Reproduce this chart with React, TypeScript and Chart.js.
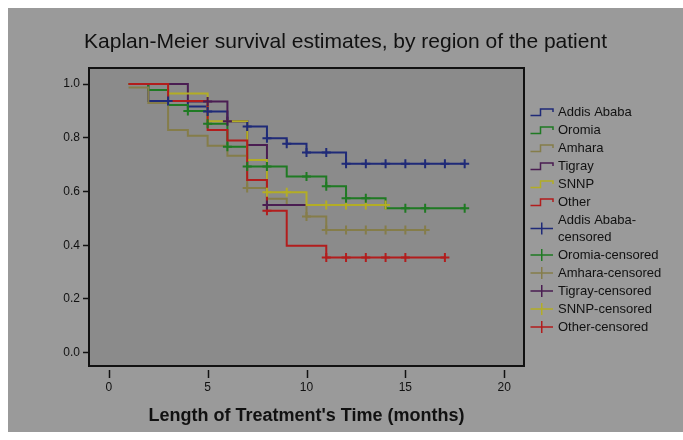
import React, { useEffect, useRef } from 'react';
import { Chart, registerables } from 'chart.js';

Chart.register(...registerables);

const TITLE = 'Kaplan-Meier survival estimates, by region of the patient';
const X_TITLE = "Length of Treatment's Time (months)";
const X_TICKS = [0, 5, 10, 15, 20];
const Y_TICKS = [0.0, 0.2, 0.4, 0.6, 0.8, 1.0];
const REGIONS = ['Addis Ababa', 'Oromia', 'Amhara', 'Tigray', 'SNNP', 'Other'];
const COLORS = ['#1f2a78', '#1f7a23', '#857d4a', '#4a1d52', '#b3ad25', '#b21d1d'];

// Step points: survival value holds from each time until the next one
const addisTimes = [1, 2, 4, 5, 6, 7, 8, 9, 10, 12, 18];
const addisSurv = [1.0, 0.937, 0.917, 0.898, 0.862, 0.842, 0.798, 0.778, 0.745, 0.703, 0.703];
const addisCensor = [3, 5, 7, 8, 9, 10, 11, 12, 13, 14, 15, 16, 17, 18];

const oromiaTimes = [1, 2, 3, 4, 5, 6, 7, 9, 11, 12, 14, 18];
const oromiaSurv = [1.0, 0.978, 0.922, 0.9, 0.852, 0.767, 0.693, 0.656, 0.62, 0.575, 0.538, 0.538];
const oromiaCensor = [4, 5, 6, 7, 8, 10, 11, 12, 13, 15, 16, 18];

const amharaTimes = [1, 2, 3, 4, 5, 6, 7, 8, 9, 10, 11, 16];
const amharaSurv = [0.987, 0.93, 0.829, 0.808, 0.77, 0.733, 0.613, 0.573, 0.55, 0.507, 0.457, 0.457];
const amharaCensor = [7, 10, 11, 12, 13, 14, 15, 16];

const tigrayTimes = [1, 4, 6, 7, 8, 10];
const tigraySurv = [1.0, 0.935, 0.862, 0.773, 0.55, 0.55];
const tigrayCensor = [5, 6, 8];

const snnpTimes = [1, 3, 5, 7, 8, 10, 14];
const snnpSurv = [1.0, 0.965, 0.862, 0.717, 0.597, 0.55, 0.55];
const snnpCensor = [8, 9, 11, 12, 13, 14];

const otherTimes = [1, 3, 5, 6, 7, 8, 9, 11, 17];
const otherSurv = [1.0, 0.937, 0.829, 0.79, 0.643, 0.528, 0.398, 0.354, 0.354];
const otherCensor = [8, 11, 12, 13, 14, 15, 17];

const SERIES_TIMES = [addisTimes, oromiaTimes, amharaTimes, tigrayTimes, snnpTimes, otherTimes];
const SERIES_SURV = [addisSurv, oromiaSurv, amharaSurv, tigraySurv, snnpSurv, otherSurv];
const SERIES_CENSOR = [addisCensor, oromiaCensor, amharaCensor, tigrayCensor, snnpCensor, otherCensor];

const FONT = '"Liberation Sans", Arial, Helvetica, sans-serif';
const TEXT = '#111111';
const OUTER_BG = '#9a9a9a';
const PLOT_BG = '#8b8b8b';

function survAt(times: number[], surv: number[], t: number) {
  let v = surv[0];
  for (let i = 0; i < times.length; i++) if (times[i] <= t) v = surv[i];
  return v;
}

const decorPlugin = {
  id: 'kmDecor',
  beforeDraw(chart: any) {
    const { ctx, chartArea: a } = chart;
    ctx.save();
    ctx.fillStyle = OUTER_BG;
    ctx.fillRect(0, 0, chart.width, chart.height);
    ctx.fillStyle = PLOT_BG;
    ctx.fillRect(a.left, a.top, a.right - a.left, a.bottom - a.top);
    ctx.restore();
  },
  afterDraw(chart: any) {
    const { ctx, chartArea: a } = chart;
    const xs = chart.scales.x;
    ctx.save();
    // frame
    ctx.strokeStyle = TEXT;
    ctx.lineWidth = 2;
    ctx.strokeRect(a.left, a.top, a.right - a.left, a.bottom - a.top);
    // x tick marks (detached below frame)
    ctx.lineWidth = 1.5;
    X_TICKS.forEach((v) => {
      const px = Math.round(xs.getPixelForValue(v)) + 0.5;
      ctx.beginPath();
      ctx.moveTo(px, a.bottom + 4);
      ctx.lineTo(px, a.bottom + 12);
      ctx.stroke();
    });
    // title
    ctx.fillStyle = TEXT;
    ctx.font = `21px ${FONT}`;
    ctx.textAlign = 'center';
    ctx.textBaseline = 'middle';
    ctx.fillText(TITLE, chart.width / 2, 34);
    // legend
    ctx.font = `13px ${FONT}`;
    ctx.textAlign = 'left';
    const ix0 = 522.5;
    const ix1 = 545;
    const tx = 550;
    let y = 104;
    const step = 18;
    REGIONS.forEach((name, i) => {
      ctx.strokeStyle = COLORS[i];
      ctx.lineWidth = 1.5;
      ctx.beginPath();
      ctx.moveTo(ix0, y + 3.5);
      ctx.lineTo(ix0 + 10, y + 3.5);
      ctx.lineTo(ix0 + 10, y - 3);
      ctx.lineTo(ix1, y - 3);
      ctx.lineTo(ix1, y);
      ctx.stroke();
      ctx.fillStyle = TEXT;
      ctx.fillText(name, tx, y);
      y += step;
    });
    REGIONS.forEach((name, i) => {
      const label = name + '-censored';
      let lines = [label];
      if (ctx.measureText(label).width > 118) lines = [name + '-', 'censored'];
      const cy = y + ((lines.length - 1) * 17) / 2;
      ctx.strokeStyle = COLORS[i];
      ctx.lineWidth = 1.5;
      ctx.beginPath();
      ctx.moveTo(ix0, cy);
      ctx.lineTo(ix1, cy);
      ctx.moveTo((ix0 + ix1) / 2, cy - 6);
      ctx.lineTo((ix0 + ix1) / 2, cy + 6);
      ctx.stroke();
      ctx.fillStyle = TEXT;
      lines.forEach((ln, k) => ctx.fillText(ln, tx, y + k * 17));
      y += step + (lines.length - 1) * 17;
    });
    ctx.restore();
  },
};

export default function App() {
  const ref = useRef<HTMLCanvasElement | null>(null);
  useEffect(() => {
    if (!ref.current) return;
    const lineSets = REGIONS.map((name, i) => ({
      type: 'line' as const,
      label: name,
      data: SERIES_TIMES[i].map((t, j) => ({ x: t, y: SERIES_SURV[i][j] })),
      stepped: true,
      borderColor: COLORS[i],
      borderWidth: 2,
      pointRadius: 0,
      fill: false,
      order: 6 + (5 - i),
    }));
    const censorSets = REGIONS.map((name, i) => ({
      type: 'scatter' as const,
      label: name + '-censored',
      data: SERIES_CENSOR[i].map((t) => ({ x: t, y: survAt(SERIES_TIMES[i], SERIES_SURV[i], t) })),
      showLine: false,
      pointStyle: 'cross',
      pointRadius: 4.5,
      pointBorderWidth: 2,
      borderColor: COLORS[i],
      backgroundColor: COLORS[i],
      order: i,
    }));
    const chart = new Chart(ref.current, {
      type: 'line',
      data: { datasets: [...censorSets, ...lineSets] as any },
      options: {
        animation: false,
        responsive: false,
        devicePixelRatio: 1,
        layout: { padding: { top: 60, right: 159, left: 0, bottom: 0 } },
        plugins: { legend: { display: false }, tooltip: { enabled: false }, title: { display: false } },
        scales: {
          x: {
            type: 'linear',
            min: -1,
            max: 21,
            afterBuildTicks: (s: any) => {
              s.ticks = X_TICKS.map((v) => ({ value: v }));
            },
            afterFit: (s: any) => {
              s.height = 66;
            },
            ticks: {
              color: TEXT,
              padding: 6,
              font: { family: FONT, size: 12 },
              callback: (v: any) => String(v),
            },
            grid: { display: false },
            border: { display: false },
            title: {
              display: true,
              text: X_TITLE,
              color: TEXT,
              font: { family: FONT, size: 18, weight: 'bold' },
              padding: { top: 0, bottom: 5 },
            },
          },
          y: {
            type: 'linear',
            min: -0.05,
            max: 1.06,
            afterBuildTicks: (s: any) => {
              s.ticks = Y_TICKS.map((v) => ({ value: v }));
            },
            afterFit: (s: any) => {
              s.width = 81;
            },
            ticks: {
              color: TEXT,
              padding: 3,
              font: { family: FONT, size: 12 },
              callback: (v: any) => Number(v).toFixed(1),
            },
            grid: {
              display: true,
              drawOnChartArea: false,
              drawTicks: true,
              tickLength: 6,
              tickColor: TEXT,
              tickWidth: 1.5,
            },
            border: { display: false },
          },
        },
      } as any,
      plugins: [decorPlugin],
    });
    return () => chart.destroy();
  }, []);
  return (
    <div style={{ position: 'absolute', left: 8, top: 8, width: 675, height: 424 }}>
      <canvas ref={ref} width={675} height={424} style={{ display: 'block', width: 675, height: 424 }} />
    </div>
  );
}
